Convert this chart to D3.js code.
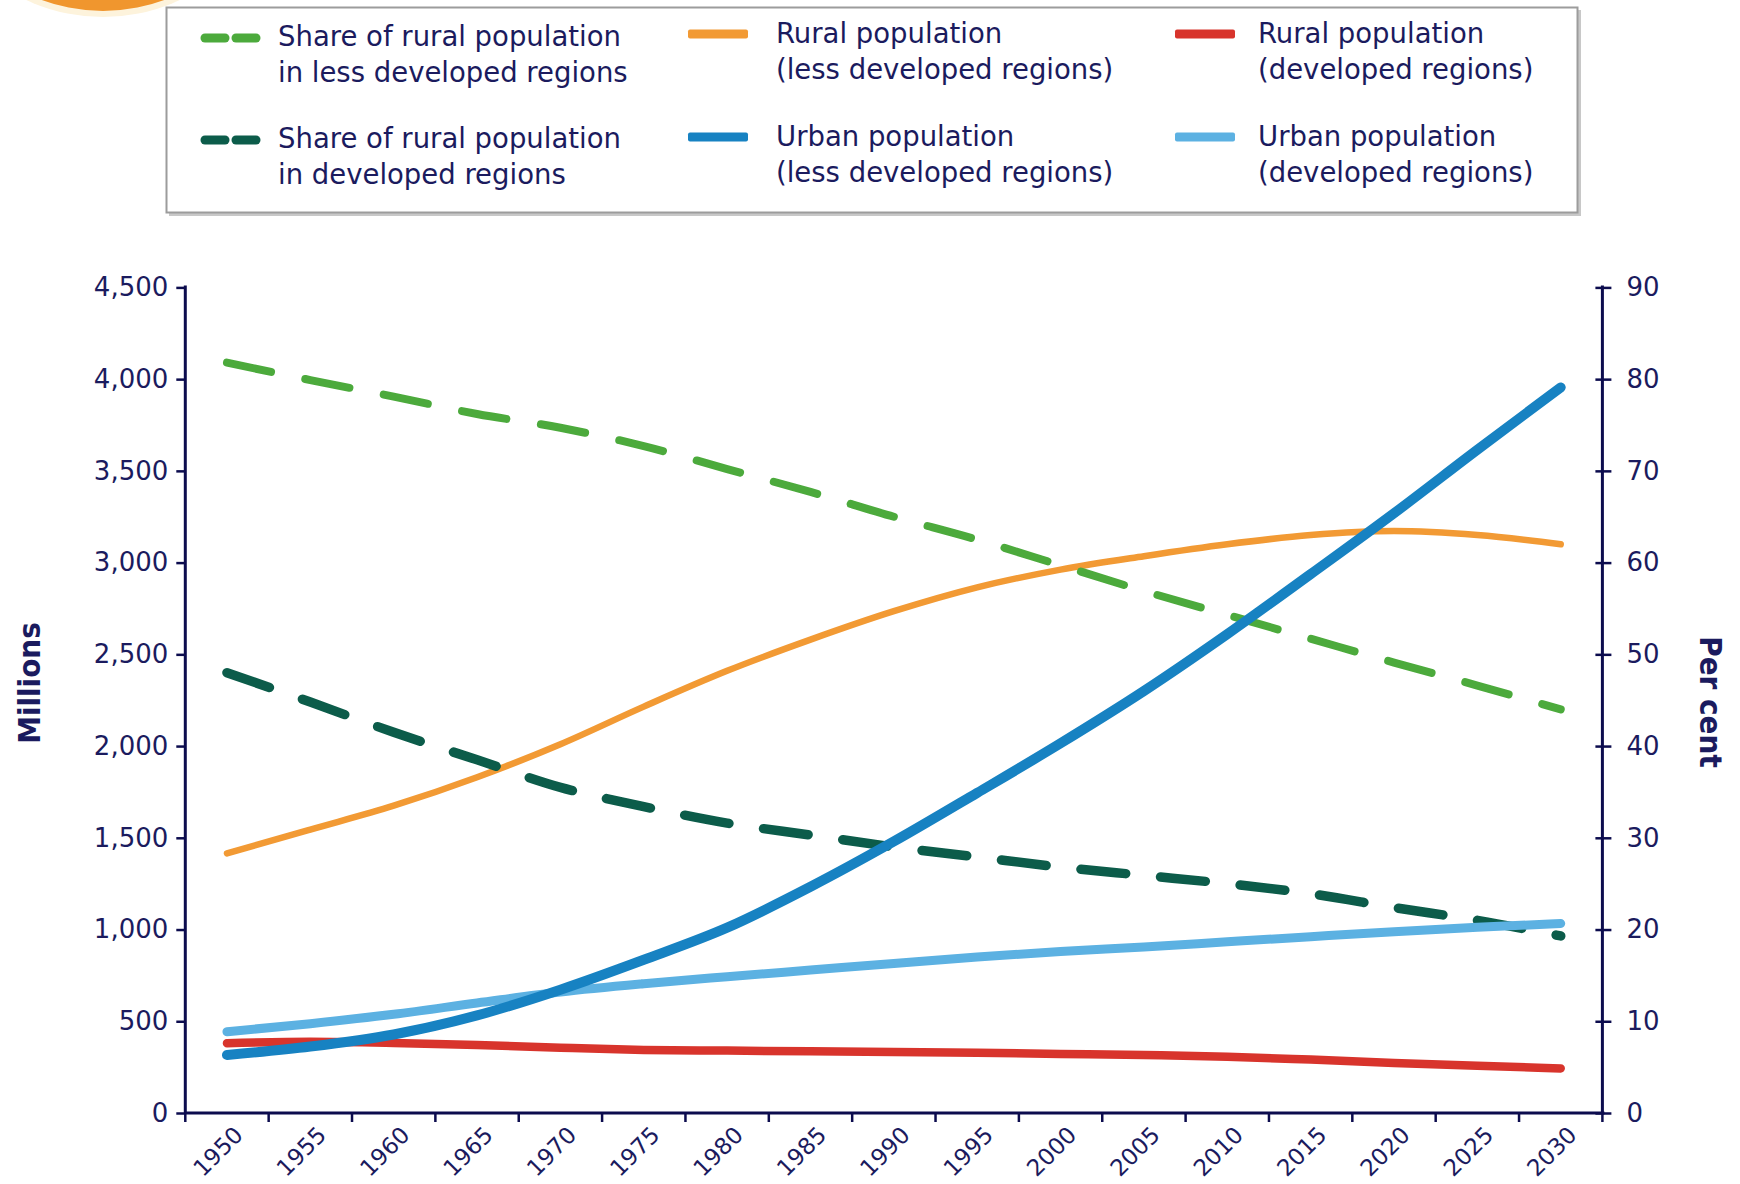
<!DOCTYPE html>
<html><head><meta charset="utf-8">
<script src="https://cdn.jsdelivr.net/npm/d3@7/dist/d3.min.js"></script>
<style>body{margin:0;background:#fff;} svg{display:block}</style>
</head><body><svg id="c" width="1740" height="1184"></svg>
<script>
// ---- data ----
const years = [1950,1955,1960,1965,1970,1975,1980,1985,1990,1995,2000,2005,2010,2015,2020,2025,2030];
const ruralLess = [1415,1545,1675,1830,2010,2215,2410,2580,2735,2865,2962,3035,3100,3150,3172,3150,3100];
const urbanLess = [316,362,428,532,672,835,1010,1233,1480,1745,2015,2300,2610,2937,3269,3615,3955];
const ruralDev  = [380,388,382,371,356,344,340,336,333,328,322,316,307,291,273,257,243];
const urbanDev  = [443,487,538,600,660,705,743,779,815,850,880,905,933,961,988,1012,1033];
const shareRuralLess = [81.8,79.9,78.1,76.2,74.7,72.7,70.2,67.7,65.0,62.5,59.7,56.9,54.3,51.7,49.1,46.6,44.0];
const shareRuralDev  = [48.0,44.8,41.5,38.5,35.5,33.4,31.6,30.3,29.0,27.9,26.8,25.9,25.0,23.9,22.4,21.0,19.3];
const leftTicks = [0,500,1000,1500,2000,2500,3000,3500,4000,4500];
const rightTicks = [0,10,20,30,40,50,60,70,80,90];
const leftTitle = "Millions";
const rightTitle = "Per cent";
const legendCol1 = ["Share of rural population|in less developed regions", "Share of rural population|in developed regions"];
const legendCol2 = ["Rural population|(less developed regions)", "Urban population|(less developed regions)"];
const legendCol3 = ["Rural population|(developed regions)", "Urban population|(developed regions)"];

// ---- styles ----
const NAVY = "#0c0c4e";
const TXT = "#1b1b5e";
const C = {green:"#4caa3c", dgreen:"#0c5c4a", orange:"#f29a34", blue:"#1782c2", lblue:"#5cb1e2", red:"#d8342c"};

const svg = d3.select("#c");
const L = 185.3, R = 1602.4, T = 287.4, B = 1113;

// decorative orange circle top-left
svg.append("circle").attr("cx",103).attr("cy",-165).attr("r",182).attr("fill","#fdf3dc");
svg.append("circle").attr("cx",103).attr("cy",-165).attr("r",176).attr("fill","#f0962e");

const x = d3.scaleBand().domain(years).range([L, R]).padding(0);
const xc = d => x(d) + x.bandwidth()/2;
const yL = d3.scaleLinear().domain([0,4500]).range([B, T]);
const yR = d3.scaleLinear().domain([0,90]).range([B, T]);

// ---- series ----
const series = [
  {vals: ruralDev, sc: yL, color: C.red, w: 8.5},
  {vals: ruralLess, sc: yL, color: C.orange, w: 6.5},
  {vals: shareRuralLess, sc: yR, color: C.green, w: 8, dash: "45,35"},
  {vals: shareRuralDev, sc: yR, color: C.dgreen, w: 9.5, dash: "45,35"},
  {vals: urbanDev, sc: yL, color: C.lblue, w: 9},
  {vals: urbanLess, sc: yL, color: C.blue, w: 10}
];
const g = svg.append("g");
series.forEach(s => {
  const line = d3.line().x((d,i) => xc(years[i])).y(d => s.sc(d)).curve(d3.curveMonotoneX);
  g.append("path").datum(s.vals).attr("d", line)
    .attr("fill","none").attr("stroke", s.color).attr("stroke-width", s.w)
    .attr("stroke-linecap", "round").attr("stroke-linejoin","round")
    .attr("stroke-dasharray", s.dash || null);
});

// ---- axes ----
const font = "'DejaVu Sans', Verdana, sans-serif";
const axL = svg.append("g").attr("transform", `translate(${L},0)`)
  .call(d3.axisLeft(yL).tickValues(leftTicks).tickFormat(d3.format(",")).tickSize(9).tickPadding(8));
const axR = svg.append("g").attr("transform", `translate(${R},0)`)
  .call(d3.axisRight(yR).tickValues(rightTicks).tickSize(9).tickPadding(15));
axR.selectAll(".tick line").attr("x1", -7);
[axL, axR].forEach(a => {
  a.select(".domain").attr("stroke", NAVY).attr("stroke-width", 3).attr("d", `M0,${T-2}V${B}`);
  a.selectAll(".tick line").attr("stroke", NAVY).attr("stroke-width", 2.5);
  a.selectAll(".tick text").attr("fill", TXT).style("font-family", font).style("font-size","26px");
});

// x axis: line plus ticks at band edges
const edges = years.map(d => x(d)).concat([R]);
const xa = svg.append("g");
xa.append("line").attr("x1", L-1).attr("x2", R+2).attr("y1", B).attr("y2", B)
  .attr("stroke", NAVY).attr("stroke-width", 3);
xa.selectAll("line.t").data(edges).join("line").attr("class","t")
  .attr("x1", d => d).attr("x2", d => d).attr("y1", B).attr("y2", B+9)
  .attr("stroke", NAVY).attr("stroke-width", 2.5);
xa.selectAll("text").data(years).join("text")
  .attr("transform", d => `translate(${xc(d)+6},${B+12}) rotate(-45)`)
  .attr("text-anchor","end").attr("dy","0.7em")
  .attr("fill", TXT).style("font-family", font).style("font-size","23px")
  .text(d => String(d));

// axis titles
svg.append("text").attr("transform", `translate(40,683) rotate(-90)`)
  .attr("text-anchor","middle").attr("fill", TXT)
  .style("font-family","'DejaVu Sans Condensed', 'DejaVu Sans', sans-serif").style("font-stretch","condensed")
  .style("font-weight","bold").style("font-size","31px").text(leftTitle);
svg.append("text").attr("transform", `translate(1700,702) rotate(90)`)
  .attr("text-anchor","middle").attr("fill", TXT)
  .style("font-family","'DejaVu Sans Condensed', 'DejaVu Sans', sans-serif").style("font-stretch","condensed")
  .style("font-weight","bold").style("font-size","31px").text(rightTitle);

// ---- legend ----
const lg = svg.append("g");
lg.append("rect").attr("x",169).attr("y",10).attr("width",1412).attr("height",206).attr("fill","#c8c8c8");
lg.append("rect").attr("x",166.5).attr("y",7.5).attr("width",1411).attr("height",205)
  .attr("fill","#fff").attr("stroke","#9c9c9c").attr("stroke-width",2);
const legItems = [
  {txt: legendCol1[0], color: C.green, dash: true, sx: 201, tx: 278, sy: 38, by: 46},
  {txt: legendCol1[1], color: C.dgreen, dash: true, sx: 201, tx: 278, sy: 140, by: 148},
  {txt: legendCol2[0], color: C.orange, sx: 688, tx: 776, sy: 34, by: 43},
  {txt: legendCol2[1], color: C.blue, sx: 688, tx: 776, sy: 137, by: 146},
  {txt: legendCol3[0], color: C.red, sx: 1175, tx: 1258, sy: 34, by: 43},
  {txt: legendCol3[1], color: C.lblue, sx: 1175, tx: 1258, sy: 137, by: 146}
];
legItems.forEach(it => {
  if (it.dash) {
    [0, 31].forEach(o => lg.append("line").attr("x1", it.sx+4+o).attr("x2", it.sx+24+o)
      .attr("y1", it.sy).attr("y2", it.sy).attr("stroke", it.color).attr("stroke-width", 9).attr("stroke-linecap","round"));
  } else {
    lg.append("rect").attr("x", it.sx).attr("y", it.sy-4.5).attr("width", 60).attr("height", 9)
      .attr("rx", 2).attr("fill", it.color);
  }
  it.txt.split("|").forEach((t, k) => {
    lg.append("text").attr("x", it.tx).attr("y", it.by + k*36).attr("fill", TXT)
      .style("font-family", font).style("font-size","27.5px").text(t);
  });
});
</script></body></html>
